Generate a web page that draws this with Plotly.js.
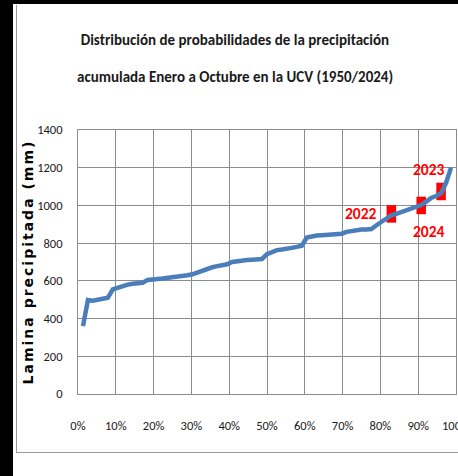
<!DOCTYPE html>
<html>
<head>
<meta charset="utf-8">
<script src="https://cdn.plot.ly/plotly-3.0.1.min.js"></script>
<style>
  html, body { margin:0; padding:0; background:#fff; }
  #wrap { position:relative; width:458px; height:476px; overflow:hidden; }
  #chart { position:absolute; left:0; top:0; width:458px; height:476px; }
  .deco { position:absolute; pointer-events:none; }
  #chart .ytitle { letter-spacing: 2px; }
</style>
</head>
<body>
<div id="wrap">
  <div id="chart"></div>
  <div class="deco" style="left:0;top:0;width:458px;height:4px;background:#000;"></div>
  <div class="deco" style="left:0;top:0;width:13px;height:476px;background:#000;"></div>
  <div class="deco" style="left:16px;top:5px;width:1px;height:448px;background:#9a9a9a;"></div>
  <div class="deco" style="left:16px;top:452px;width:442px;height:1px;background:#9a9a9a;"></div>
</div>
<script>
// Plotting positions (probability of non-exceedance) for 75 years
const probabilities = [
  0.0132, 0.0263, 0.0395, 0.0526, 0.0658, 0.0789, 0.0921, 0.1053, 0.1184, 0.1316,
  0.1447, 0.1579, 0.1711, 0.1842, 0.1974, 0.2105, 0.2237, 0.2368, 0.2500, 0.2632,
  0.2763, 0.2895, 0.3026, 0.3158, 0.3289, 0.3421, 0.3553, 0.3684, 0.3816, 0.3947,
  0.4079, 0.4211, 0.4342, 0.4474, 0.4605, 0.4737, 0.4868, 0.5000, 0.5132, 0.5263,
  0.5395, 0.5526, 0.5658, 0.5789, 0.5921, 0.6053, 0.6184, 0.6316, 0.6447, 0.6579,
  0.6711, 0.6842, 0.6974, 0.7105, 0.7237, 0.7368, 0.7500, 0.7632, 0.7763, 0.7895,
  0.8026, 0.8158, 0.8289, 0.8421, 0.8553, 0.8684, 0.8816, 0.8947, 0.9079, 0.9211,
  0.9342, 0.9474, 0.9605, 0.9737, 0.9868
];
// Accumulated precipitation Jan–Oct, sorted (mm)
const precipitation = [
  360, 498, 495, 500, 505, 510, 555, 565, 575, 580,
  585, 585, 590, 605, 610, 610, 612, 615, 618, 620,
  625, 630, 635, 645, 655, 665, 672, 678, 682, 688,
  700, 705, 708, 710, 712, 714, 716, 742, 752, 763,
  766, 768, 775, 780, 786, 830, 836, 840, 842, 845,
  846, 848, 850, 860, 866, 870, 872, 873, 875, 895,
  915, 935, 948, 955, 965, 975, 985, 995, 1002, 1020,
  1040, 1050, 1065, 1120, 1200
];
// Highlighted recent years
const highlightYears = ['2022', '2023', '2024'];
const highlightProb = [0.829, 0.9605, 0.908];
const highlightValue = [955, 1074, 1000];

const yTickVals = [0, 200, 400, 600, 800, 1000, 1200, 1400];
const xTickVals = [0, 0.1, 0.2, 0.3, 0.4, 0.5, 0.6, 0.7, 0.8, 0.9, 1.0];

const titleLine1 = 'Distribución de probabilidades de la precipitación';
const titleLine2 = 'acumulada Enero a Octubre en la UCV (1950/2024)';
const yTitle = 'Lamina precipitada (mm)';

const calib = 'Carlito, Calibri, "Liberation Sans", sans-serif';

const labelShift = {
  '2022': {xs: -30, ys: 0},
  '2023': {xs: -12, ys: 22},
  '2024': {xs: 8, ys: -26}
};

const traces = [
  {
    x: highlightProb, y: highlightValue, type: 'scatter', mode: 'markers',
    marker: {symbol: 'line-ns', size: 12.5, line: {color: '#ff0000', width: 9.5}},
    hoverinfo: 'skip', showlegend: false
  },
  {
    x: probabilities, y: precipitation, type: 'scatter', mode: 'lines',
    line: {color: '#4a7ebb', width: 4.5},
    showlegend: false
  }
];

const annotations = highlightYears.map((yr, i) => ({
  x: highlightProb[i], y: highlightValue[i], xref: 'x', yref: 'y',
  text: '<b>' + yr + '</b>', showarrow: false,
  xshift: labelShift[yr].xs, yshift: labelShift[yr].ys,
  font: {family: calib, size: 15.5, color: '#ff0000'}
}));
annotations.push({
  x: 0.415, y: 1.2, xref: 'paper', yref: 'paper', xanchor: 'center', yanchor: 'middle',
  text: '<b>' + titleLine2 + '</b>', showarrow: false,
  font: {family: calib, size: 15, color: '#1a1a1a'}
});

const layout = {
  width: 458, height: 476,
  margin: {l: 78, r: 2, t: 130, b: 82, pad: 0},
  paper_bgcolor: '#ffffff', plot_bgcolor: '#ffffff',
  title: {
    text: '<b>' + titleLine1 + '</b>',
    x: 0.513, xanchor: 'center', y: 0.916, yanchor: 'middle', yref: 'container',
    font: {family: calib, size: 15, color: '#1a1a1a'}
  },
  xaxis: {
    range: [0, 1], tickvals: xTickVals, tickformat: '.0%',
    showgrid: true, gridcolor: '#8c8c8c', gridwidth: 1,
    showline: true, linecolor: '#8c8c8c', linewidth: 1, mirror: true,
    zeroline: false, ticks: '', ticklabelstandoff: 20, ticklabeloverflow: 'allow',
    tickfont: {family: calib, size: 12.5, color: '#1a1a1a'}
  },
  yaxis: {
    range: [0, 1400], tickvals: yTickVals,
    showgrid: true, gridcolor: '#8c8c8c', gridwidth: 1,
    showline: true, linecolor: '#8c8c8c', linewidth: 1, mirror: true,
    zeroline: false, ticks: '', ticklabelstandoff: 12,
    tickfont: {family: calib, size: 12.5, color: '#1a1a1a'},
    title: {text: yTitle, standoff: 0,
      font: {family: '"DejaVu Sans", Verdana, sans-serif', size: 14, color: '#000', weight: 'bold'}}
  },
  annotations: annotations,
  showlegend: false
};

Plotly.newPlot('chart', traces, layout, {displayModeBar: false, staticPlot: true});
</script>
</body>
</html>
